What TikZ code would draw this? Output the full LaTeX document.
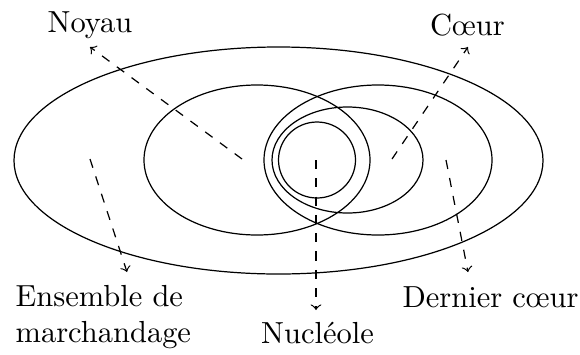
\documentclass[tikz,border=0pt]{standalone}
\begin{document}
\begin{tikzpicture}[x=0.328pt,y=-0.328pt,
  setline/.style={line width=0.4pt},
  pointer/.style={dashed,->,line width=0.4pt},
  lab/.style={inner sep=0pt,font=\normalsize}]
\useasboundingbox (0,0) rectangle (580,354);
% sets
\draw[setline] (278.5,160.5) ellipse [x radius=264.5, y radius=113.5];
\draw[setline] (257,160) ellipse [x radius=113, y radius=75];
\draw[setline] (378,160) ellipse [x radius=114, y radius=75];
\draw[setline] (347.5,160) ellipse [x radius=75.5, y radius=53];
\draw[setline] (317,160) ellipse [x radius=38.5, y radius=38];
% labels
\node[lab,anchor=base] (noyau) at (90,32) {Noyau};
\node[lab,anchor=base] (coeur) at (467.5,35) {C\oe ur};
\node[lab,anchor=north west,align=left] (ensemble) at (15,284.5) {Ensemble de\\marchandage};
\node[lab,anchor=base] (nucleole) at (317.5,343) {Nucl\'eole};
\node[lab,anchor=base west] (dernier) at (402,307) {Dernier c\oe ur};
% pointer ends
\coordinate (sN) at (242,159);  \coordinate (tN) at (90,47);
\coordinate (sC) at (392,159);  \coordinate (tC) at (468,47);
\coordinate (sE) at (90,159);   \coordinate (tE) at (127,272);
\coordinate (sU) at (316,160);  \coordinate (tU) at (316,310);
\coordinate (sD) at (446,160);  \coordinate (tD) at (468,272);
\draw[pointer] (sN) -- (tN);
\draw[pointer] (sC) -- (tC);
\draw[pointer] (sE) -- (tE);
\draw[pointer] (sU) -- (tU);
\draw[pointer] (sD) -- (tD);
\end{tikzpicture}
\end{document}
